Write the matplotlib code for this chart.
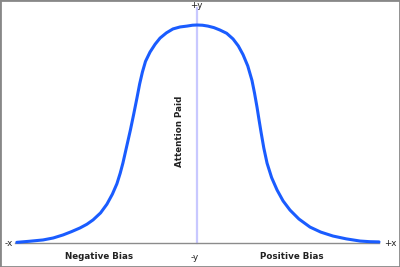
import matplotlib
matplotlib.use("Agg")
import matplotlib.pyplot as plt
from matplotlib.patches import Rectangle

# Data: bias (-100..100) vs attention paid (0..100)
bias = [-99, -92, -84.6, -79, -73.6, -69, -64.3, -60.5, -57.1, -53, -49.5,
        -46.5, -44.0, -42.2, -40.7, -38.2, -36.6, -34.8, -33.0, -31.5, -30.0,
        -28.3, -25.8, -23.0, -20.3, -16.8, -13.2, -9.3, -5.5,
        -2.5, 0, 3, 6, 9.3, 12.6, 16.3, 19.8, 22.7, 25.3, 27.9, 30.2, 31.6,
        33.0, 34.1, 35.2, 36.7, 38.5, 41.0, 44.0, 47.3, 51.1, 56.0, 62.1,
        68.0, 74.7, 82.0, 89.6, 95.0, 100]
attention = [0.3, 0.8, 1.4, 2.3, 3.7, 5.2, 6.9, 8.6, 10.6, 13.8, 17.8,
             22.4, 27.2, 32.0, 36.7, 45.9, 51.8, 59.0, 66.5, 73.0, 78.4,
             83.3, 87.6, 91.2, 94.0, 96.4, 98.2, 99.1, 99.5,
             99.9, 100, 99.9, 99.5, 98.8, 97.7, 96.2, 93.6, 90.4, 86.4, 81.2,
             74.6, 68.8, 62.2, 56.4, 50.8, 43.6, 36.6, 30.0, 24.3, 19.3, 15.1,
             11.0, 7.3, 5.0, 3.2, 1.9, 0.9, 0.6, 0.5]

x_end_labels = ["-x", "+x"]
y_end_labels = ["-y", "+y"]
side_labels = ["Negative Bias", "Positive Bias"]
y_title = "Attention Paid"

W, H = 400, 267
fig = plt.figure(figsize=(W / 100, H / 100), dpi=100)
fig.patch.set_facecolor("white")

# axes placed so bias -100..100 -> px 15..379, attention 0..100 -> py 243..25
left, right = 15 / W, 379 / W
bottom, top = (H - 243) / H, (H - 25) / H
ax = fig.add_axes([left, bottom, right - left, top - bottom])
ax.set_xlim(-100, 100)
ax.set_ylim(0, 100)
ax.axis("off")

# vertical centre line
ax.plot([0, 0], [0, 100 + 17 / 2.18], color="#c8c8ff", lw=1.6,
        clip_on=False, zorder=1)
# horizontal axis
ax.plot([-100, 100], [0, 0], color="#8c8c8c", lw=1.0, clip_on=False, zorder=1)

ax.plot(bias, attention, color="#1a5cff", lw=2.2, solid_joinstyle="round",
        solid_capstyle="round", clip_on=False, zorder=3)

fs = 6.3
def px(x, y, s, **kw):
    fig.text(x / W, 1 - y / H, s, ha="center", va="center", fontsize=fs,
             color="#222222", **kw)

px(9, 243.5, x_end_labels[0])
px(390, 243.5, x_end_labels[1])
px(195, 258, y_end_labels[0])
px(196, 5, y_end_labels[1])
px(99, 256.5, side_labels[0], fontweight="bold")
px(292, 256.5, side_labels[1], fontweight="bold")
px(179, 131, y_title, fontweight="bold", rotation=90)

# image border
fig.patches.append(Rectangle((0, 0), 1, 1, transform=fig.transFigure,
                             fill=False, edgecolor="#888888", lw=2.0))

fig.savefig("out.png", dpi=100)
